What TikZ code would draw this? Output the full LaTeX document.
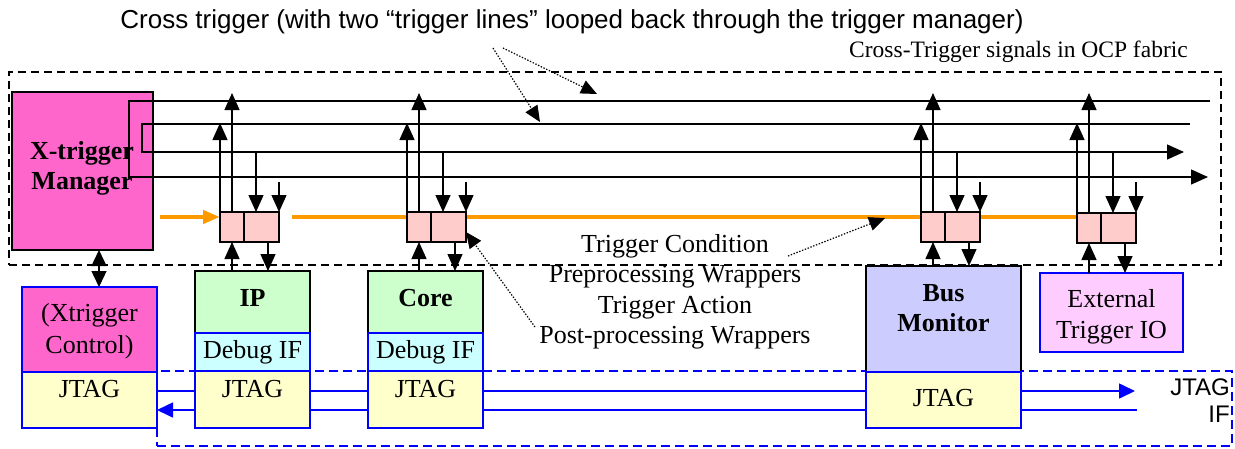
\documentclass[tikz,border=0pt]{standalone}
\usepackage{fontspec}
\setmainfont{Liberation Serif}
\newfontfamily\arial{Liberation Sans}
\usetikzlibrary{arrows.meta,calc,backgrounds}
\definecolor{mag}{HTML}{FF66CC}
\definecolor{wrap}{HTML}{FFCCCC}
\definecolor{grn}{HTML}{CCFFCC}
\definecolor{cyn}{HTML}{CCFFFF}
\definecolor{ylw}{HTML}{FFFFCC}
\definecolor{lav}{HTML}{CCCCFF}
\definecolor{pnk}{HTML}{FFCCFF}
\definecolor{org}{HTML}{FF9900}
\definecolor{blu}{HTML}{0000FF}
\tikzset{
 box/.style={draw, line width=1.3pt, anchor=north west, inner sep=0pt, outer sep=0pt},
 kbox/.style={box, draw=black},
 bbox/.style={box, draw=blu},
 sig/.style={line width=1.3pt},
 tri/.style={sig, -{Triangle[length=17pt,width=15pt]}},
 dtri/.style={sig, {Triangle[length=16pt,width=15pt]}-{Triangle[length=16pt,width=15pt]}},
 btri/.style={line width=1.6pt, draw=blu, -{Triangle[length=16pt,width=15pt]}},
 dotarr/.style={line width=1.2pt, dash pattern=on 1.4pt off 1.6pt, -{Triangle[length=16pt,width=14pt]}},
 otri/.style={line width=4.5pt, draw=org, -{Triangle[length=17pt,width=13pt]}},
 oline/.style={line width=4.5pt, draw=org},
 frame/.style={draw=black, line width=1.1pt, dash pattern=on 8pt off 5pt},
 bframe/.style={draw=blu, line width=1.1pt, dash pattern=on 9pt off 5pt},
 tnr/.style={font=\fontsize{26}{30}\selectfont, align=center, inner sep=0pt},
 tnrb/.style={font=\bfseries\fontsize{26}{30}\selectfont, align=center, inner sep=0pt},
 sans/.style={font=\arial\fontsize{24}{27}\selectfont, inner sep=0pt},
}
\begin{document}
\begin{tikzpicture}[x=1pt,y=-1pt]
\useasboundingbox (0,0) rectangle (1235,448);

% ---- components ----
\node[kbox, fill=mag, minimum width=141pt, minimum height=158pt] (mgr) at (12,92) {};
\node[bbox, fill=mag, minimum width=135pt, minimum height=85pt] (xc) at (22,287) {};
\node[bbox, fill=ylw, minimum width=135pt, minimum height=56pt] (jt0) at (22,372) {};
\node[kbox, fill=grn, minimum width=115pt, minimum height=62pt] (ip) at (195,271) {};
\node[bbox, fill=cyn, minimum width=115pt, minimum height=38pt] (dbg1) at (195,333) {};
\node[bbox, fill=ylw, minimum width=115pt, minimum height=57pt] (jt1) at (195,371) {};
\node[kbox, fill=grn, minimum width=115pt, minimum height=62pt] (core) at (368,271) {};
\node[bbox, fill=cyn, minimum width=115pt, minimum height=38pt] (dbg2) at (368,333) {};
\node[bbox, fill=ylw, minimum width=115pt, minimum height=57pt] (jt2) at (368,371) {};
\node[kbox, fill=lav, minimum width=155pt, minimum height=106pt] (bus) at (866,266) {};
\node[bbox, fill=ylw, minimum width=155pt, minimum height=56pt] (jt3) at (866,372) {};
\node[bbox, fill=pnk, minimum width=143pt, minimum height=79pt] (ext) at (1040,273) {};

% ---- texts ----
\node[sans, font=\arial\fontsize{26}{29}\selectfont] (title) at (572,22) {Cross trigger (with two “trigger lines” looped back through the trigger manager)};
\node[font=\fontsize{23.5}{27}\selectfont, inner sep=0pt, anchor=east] (sub) at (1188,52) {Cross-Trigger signals in OCP fabric};
\node[tnrb] (mgrt) at (82,168.5) {X-trigger\\Manager};
\node[tnr, font=\fontsize{26}{32}\selectfont] (xct) at (89.5,331) {(Xtrigger\\Control)};
\node[tnrb] (ipt) at (252.5,298) {IP};
\node[tnrb] (coret) at (425.5,298) {Core};
\node[tnr] (dbg1t) at (252.5,352) {Debug IF};
\node[tnr] (dbg2t) at (425.5,352) {Debug IF};
\node[tnr] (jt0t) at (89.5,389) {JTAG};
\node[tnr] (jt1t) at (252.5,389) {JTAG};
\node[tnr] (jt2t) at (425.5,389) {JTAG};
\node[tnr] (jt3t) at (943.5,398) {JTAG};
\node[tnrb] (bust) at (943.5,308) {Bus\\Monitor};
\node[tnr, font=\fontsize{26}{31}\selectfont] (extt) at (1111.5,317) {External\\Trigger IO};
\node[tnr, font=\fontsize{26}{30.5}\selectfont] (wlab) at (675,292) {Trigger Condition\\Preprocessing Wrappers\\Trigger Action\\Post-processing Wrappers};
\node[sans, align=right, anchor=east] (jif) at (1230,401) {JTAG\\IF};

% ---- wrappers ----
\coordinate (T1) at (0,93);
\coordinate (T2) at (0,123);
\coordinate (L3) at (0,152);
\coordinate (S) at (0,182);
\foreach \n/\xl/\yt/\comp in {1/220/212/ip,2/407/212/core,3/921/212/bus,4/1077/213/ext}{
  \node[kbox, fill=wrap, minimum width=24pt, minimum height=30pt] (wa\n) at (\xl,\yt) {};
  \node[kbox, fill=wrap, minimum width=35pt, minimum height=30pt] (wb\n) at (\xl+24,\yt) {};
  \coordinate (d\n) at ($(wb\n.north west)+(12,0)$);
  \coordinate (u\n) at ($(wb\n.south west)+(24,0)$);
  \draw[tri] (wa\n.north west) -- (wa\n.north west |- T2);
  \draw[tri] (wa\n.north) -- (wa\n.north |- T1);
  \draw[tri] (d\n |- L3) -- (d\n);
  \draw[tri] (wb\n.north east |- S) -- (wb\n.north east);
  \draw[tri] (wa\n.south |- \comp.north) -- (wa\n.south);
  \draw[tri] (u\n) -- (u\n |- \comp.north);
}

% ---- trigger lines (looped through manager) ----
\coordinate (l1e) at (1210,101);
\coordinate (lpa) at (129,101);
\coordinate (lpb) at (129,177);
\coordinate (l4e) at (1208,177);
\coordinate (l2e) at (1190,124);
\coordinate (lqa) at (142,124);
\coordinate (lqb) at (142,152);
\coordinate (l3e) at (1184,152);
\draw[tri] (l1e) -- (lpa) -- (lpb) -- (l4e);
\draw[tri] (l2e) -- (lqa) -- (lqb) -- (l3e);

% manager <-> control
\draw[dtri] ($(mgr.south west)+(87,0)$) -- ($(xc.north west)+(77,0)$);

% orange arrow into first wrapper
\coordinate (ostart) at (160,217);
\draw[otri] (ostart) -- (ostart -| wa1.west);

% dotted annotation arrows
\coordinate (ct1) at (493,48);
\coordinate (ct2) at (503,48);
\coordinate (ct1e) at (540,122);
\coordinate (ct2e) at (597,94);
\draw[dotarr] (ct1) -- (ct1e);
\draw[dotarr] (ct2) -- (ct2e);
\coordinate (tcs) at (788,256);
\coordinate (tce) at (885,218);
\draw[dotarr] (tcs) -- (tce);
\coordinate (pps) at (535,327);
\coordinate (ppe) at (466,232);
\draw[dotarr] (pps) -- (ppe);

% ---- background ----
\begin{pgfonlayer}{background}
  \node[box, frame, minimum width=1212pt, minimum height=193pt] (fabric) at (9,72) {};
  \node[box, bframe, minimum width=1075pt, minimum height=75pt] (jtagif) at (157,371) {};
  \coordinate (oa) at (292,217);
  \coordinate (ob) at (1077,217);
  \draw[oline] (oa) -- (ob);
  \coordinate (jr) at (1135,391);
  \coordinate (jl) at (1137,410);
  \draw[btri] (jt0.east |- jr) -- (jr);
  \draw[btri] (jl) -- (jt0.east |- jl);
\end{pgfonlayer}
\end{tikzpicture}
\end{document}
